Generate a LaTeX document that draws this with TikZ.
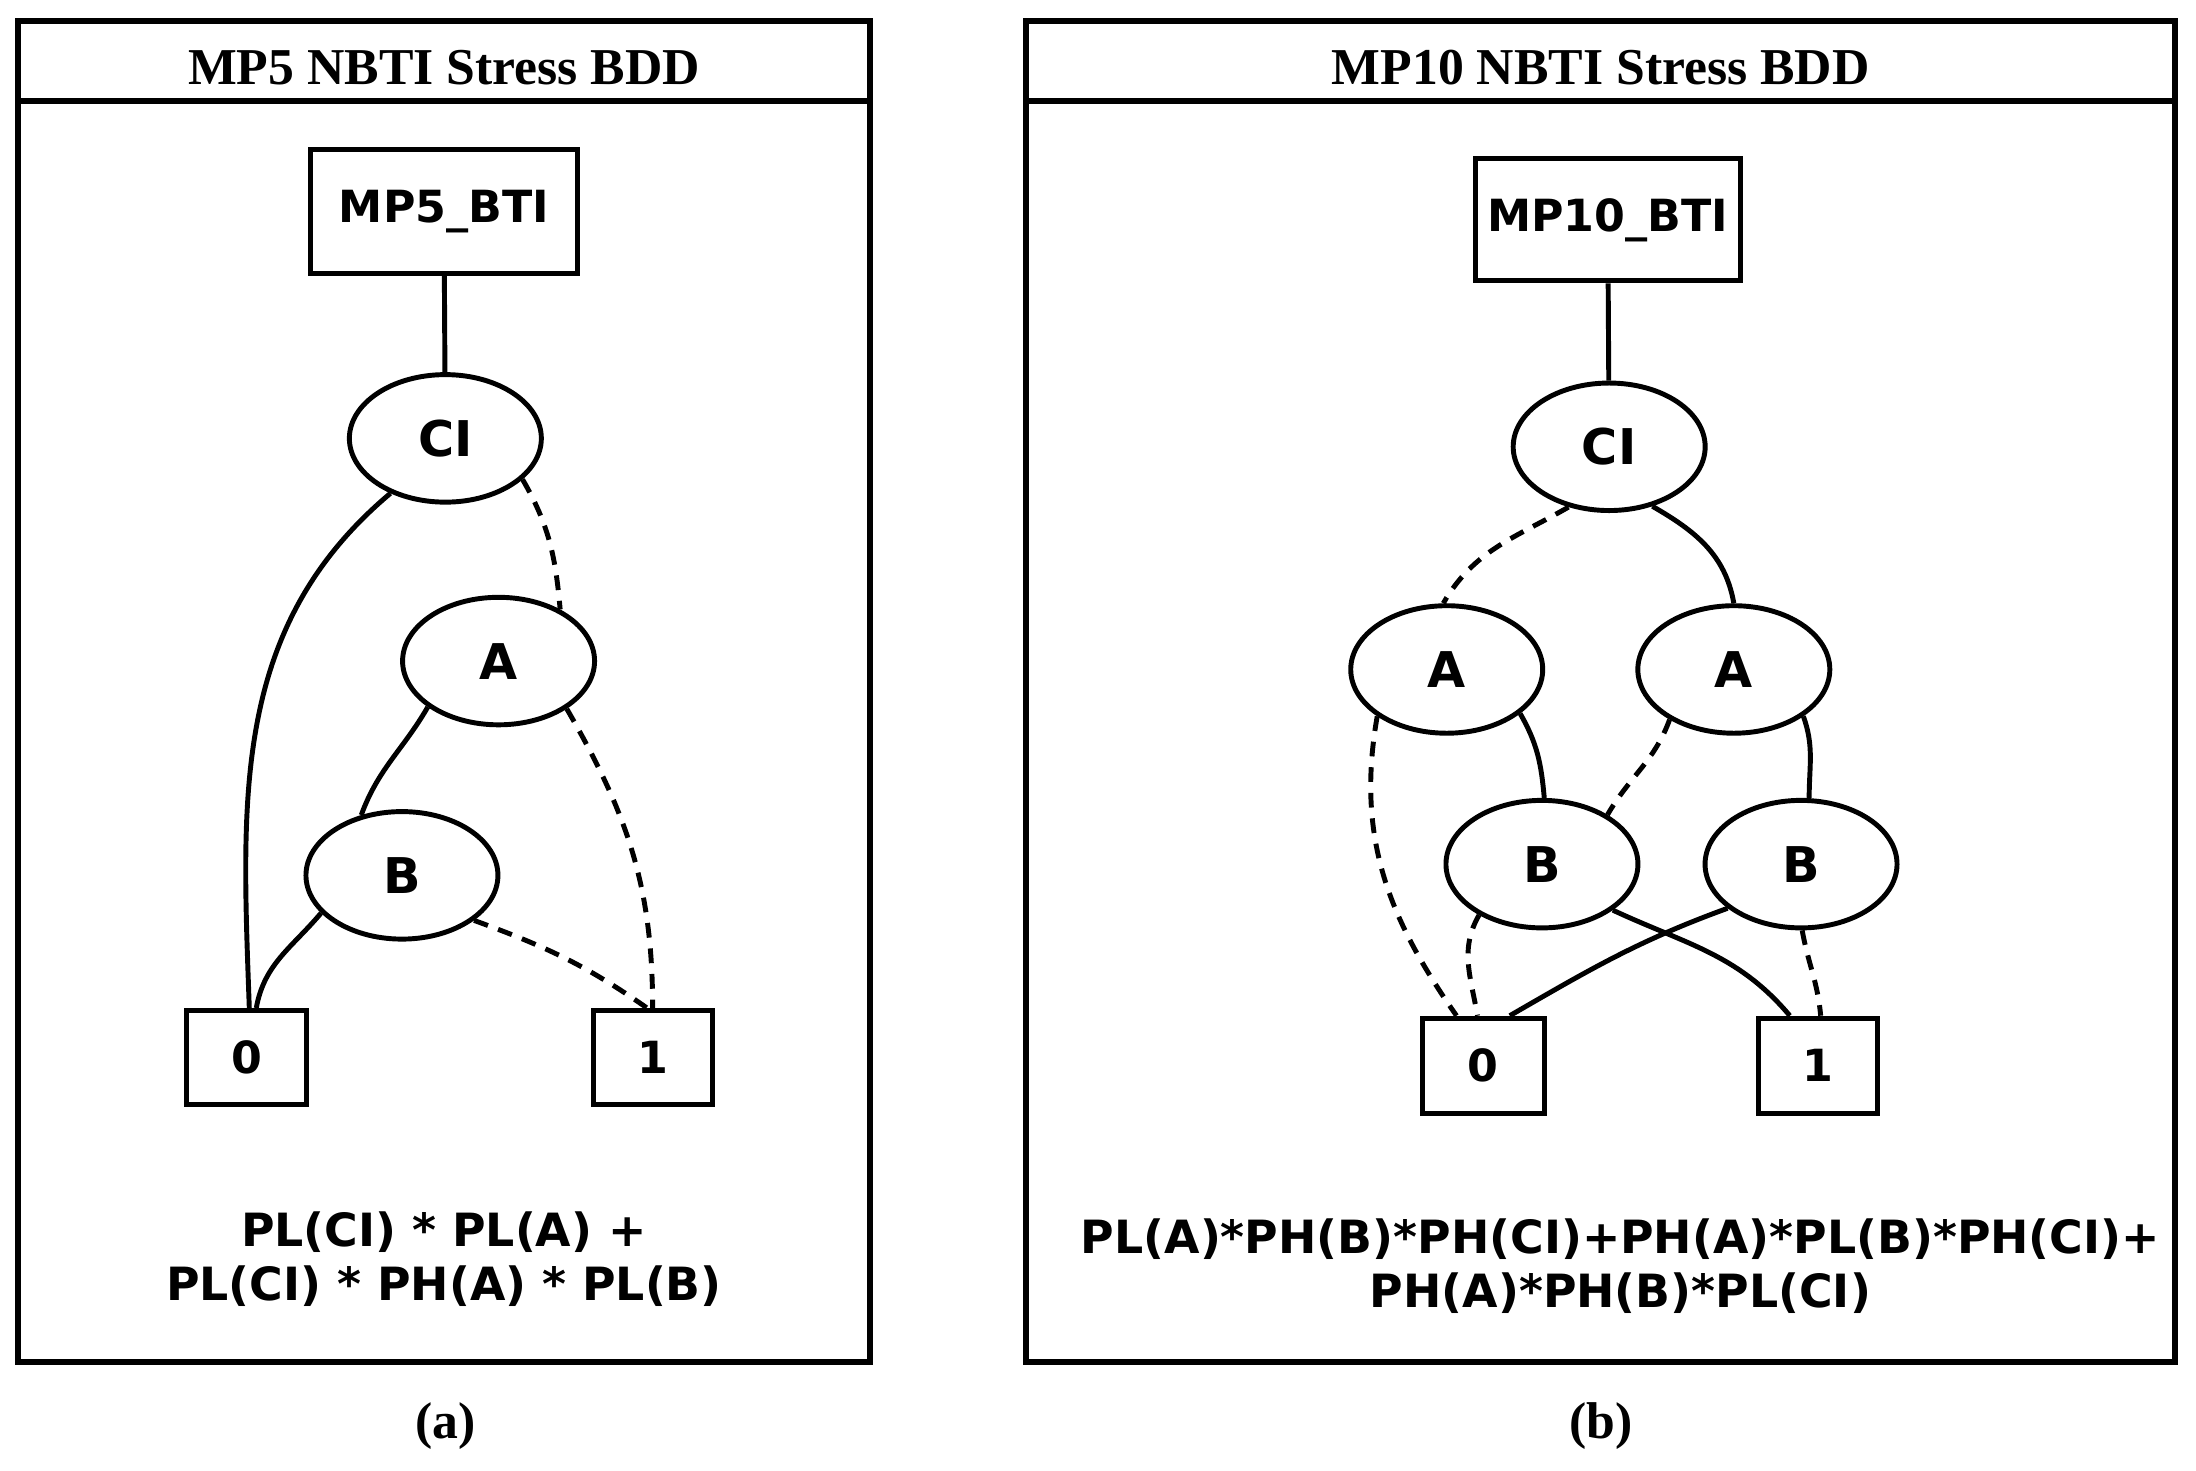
\documentclass[tikz,border=0pt]{standalone}
\usepackage{fontspec}
\setmainfont{Liberation Serif}
\newfontfamily\nodefont{DejaVu Sans}
\usetikzlibrary{shapes.geometric}
\begin{document}
\begin{tikzpicture}[x=0.01cm,y=-0.01cm,
  ln/.style={line width=1pt},
  dsh/.style={line width=1pt,dash pattern=on 3pt off 2.2pt},
  el/.style={draw,line width=1pt,ellipse,inner sep=0,minimum width=1.37cm,minimum height=0.91cm,font=\nodefont\bfseries\fontsize{10}{12}\selectfont},
  bx/.style={draw,line width=1pt,inner sep=0,font=\nodefont\bfseries\fontsize{9}{11}\selectfont},
  ttl/.style={font=\bfseries\fontsize{10.5}{12}\selectfont},
  frm/.style={font=\nodefont\bfseries\fontsize{9.3}{11}\selectfont,align=center}]
\useasboundingbox (0,0) rectangle (1568,1050);
% left panel
\node[draw,line width=1.2pt,minimum width=6.08cm,minimum height=9.57cm,inner sep=0] (pl) at (317,493.5) {};
\draw[line width=1.2pt] (pl.west |- 0,72) coordinate (pla) -- (pl.east |- 0,72) coordinate (plb);
\node[ttl] (tl) at (317,48) {MP5 NBTI Stress BDD};
\node[bx,minimum width=1.9cm,minimum height=0.88cm] (r1) at (317,151) {MP5\_BTI};
\node[el] (ci1) at (318,313) {CI};
\node[el] (a1) at (356,472) {A};
\node[el] (b1) at (287,625) {B};
\node[bx,minimum width=0.86cm,minimum height=0.67cm] (z1) at (176,755) {0};
\node[bx,minimum width=0.85cm,minimum height=0.67cm] (o1) at (466,755) {1};
\node[frm] (f1) at (317,899) {PL(CI) * PL(A) +\\PL(CI) * PH(A) * PL(B)};
\node[ttl] (la) at (318,1018) {(a)};
\draw[ln] (r1) -- (ci1);
\draw[ln] (ci1.225) to[out=220,in=92] ([xshift=0.02cm]z1.north);
\draw[dsh] (ci1.-28) to[out=-60,in=95] (a1.40);
\draw[ln] (a1.213) to[out=240,in=70] (b1.124);
\draw[dsh] (a1.-35) to[out=-60,in=90] (o1.north);
\draw[ln] (b1.205) to[out=230,in=80] ([xshift=0.07cm]z1.north);
\draw[dsh] (b1.-32) to[out=-20,in=145] ([xshift=-0.04cm]o1.north);
% right panel
\node[draw,line width=1.2pt,minimum width=8.2cm,minimum height=9.57cm,inner sep=0] (pr) at (1143,493.5) {};
\draw[line width=1.2pt] (pr.west |- 0,72) coordinate (pra) -- (pr.east |- 0,72) coordinate (prb);
\node[ttl] (tr) at (1143,48) {MP10 NBTI Stress BDD};
\node[bx,minimum width=1.89cm,minimum height=0.87cm] (r2) at (1148,157) {MP10\_BTI};
\node[el] (ci2) at (1149,319) {CI};
\node[el] (al) at (1033,478) {A};
\node[el] (ar) at (1238,478) {A};
\node[el] (bl) at (1101,617) {B};
\node[el] (br) at (1286,617) {B};
\node[bx,minimum width=0.87cm,minimum height=0.68cm] (z2) at (1059,761) {0};
\node[bx,minimum width=0.85cm,minimum height=0.68cm] (o2) at (1298,761) {1};
\node[frm] (f2) at (1157,904) {PL(A)*PH(B)*PH(CI)+PH(A)*PL(B)*PH(CI)+\\PH(A)*PH(B)*PL(CI)};
\node[ttl] (lb) at (1143,1018) {(b)};
\draw[ln] (r2) -- (ci2);
\draw[dsh] (ci2.236) to[out=210,in=60] (al.93);
\draw[ln] (ci2.-54) to[out=-30,in=100] (ar.90);
\draw[dsh] (al.214) to[out=260,in=125] ([xshift=-0.19cm]z2.north);
\draw[ln] (al.-31) to[out=-60,in=95] (bl.88);
\draw[dsh] (ar.218) to[out=250,in=60] (bl.37);
\draw[ln] (ar.-34) to[out=-70,in=90] (br.83);
\draw[dsh] (bl.219) to[out=240,in=100] ([xshift=-0.04cm]z2.north);
\draw[ln] (bl.-33) to[out=-25,in=130] ([xshift=-0.2cm]o2.north);
\draw[ln] (br.211) to[out=200,in=30] ([xshift=0.19cm]z2.north);
\draw[dsh] (br.-89) to[out=-80,in=95] ([xshift=0.02cm]o2.north);
\end{tikzpicture}
\end{document}
